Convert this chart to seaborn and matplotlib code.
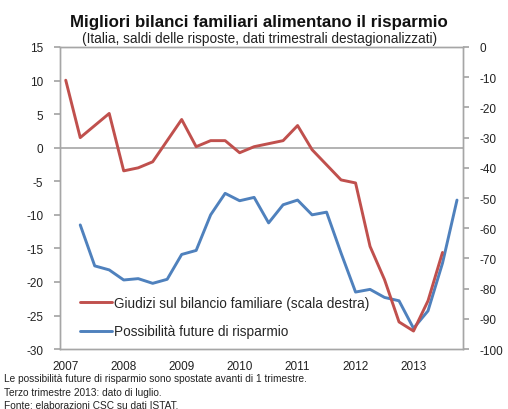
import matplotlib
matplotlib.use("Agg")
import matplotlib.pyplot as plt
import seaborn as sns
import pandas as pd
import numpy as np

sns.set_theme(style="white")
plt.rcParams['font.family'] = ['Liberation Sans', 'DejaVu Sans']
plt.rcParams['axes.unicode_minus'] = False

# Quarters 2007Q1 .. 2013Q4
quarters = [f"{y}Q{q}" for y in range(2007, 2014) for q in range(1, 5)]
year_labels = ["2007", "2008", "2009", "2010", "2011", "2012", "2013"]

# Giudizi sul bilancio familiare (right scale), 2007Q1 .. 2013Q3
giudizi = [-11, -30, -26, -22, -41, -40, -38, -31, -24, -33, -31, -31, -35, -33,
           -32, -31, -26, -34, -39, -44, -45, -66, -77, -91, -94, -84, -68]
# Possibilita future di risparmio (left scale), 2007Q2 .. 2013Q4 (shifted forward 1 quarter)
possibilita = [-11.5, -17.6, -18.2, -19.7, -19.5, -20.2, -19.6, -15.9, -15.3, -10.0,
               -6.8, -7.9, -7.4, -11.2, -8.5, -7.8, -10.0, -9.6, -15.7, -21.5, -21.1,
               -22.3, -22.8, -26.9, -24.3, -17.2, -7.8]

red = "#c0504d"
blue = "#4f81bd"

df_g = pd.DataFrame({"t": np.arange(len(giudizi)), "v": giudizi})
df_p = pd.DataFrame({"t": np.arange(1, 1 + len(possibilita)), "v": possibilita})

fig = plt.figure(figsize=(5.08, 4.10), dpi=100)
ax = fig.add_axes([0.118, 0.146, 0.793, 0.737])
ax2 = ax.twinx()

ax.axhline(0, color="#a6a6a6", lw=1.2, zorder=1)
sns.lineplot(data=df_p, x="t", y="v", ax=ax, color=blue, lw=2.1, zorder=3)
sns.lineplot(data=df_g, x="t", y="v", ax=ax2, color=red, lw=2.1, zorder=3)

ax.set_xlim(-0.4, 27.4)
ax.set_ylim(-30, 15)
ax2.set_ylim(-100, 0)
ax.set_yticks(np.arange(-30, 16, 5))
ax2.set_yticks(np.arange(-100, 1, 10))
ax.set_xticks(np.arange(0, 28, 4))
ax.set_xticklabels(year_labels)
ax.set_xlabel("")
ax.set_ylabel("")
ax2.set_ylabel("")

for a in (ax, ax2):
    for s in a.spines.values():
        s.set_color("#a6a6a6")
        s.set_linewidth(1.0)
ax.tick_params(axis="y", left=True, length=4, color="#a6a6a6", labelsize=8.5, pad=8, labelcolor="#222222")
ax2.tick_params(axis="y", right=True, length=4, color="#a6a6a6", labelsize=8.5, pad=8, labelcolor="#222222")
ax.tick_params(axis="x", bottom=False, labelsize=8.5, pad=1.5, labelcolor="#222222")

ax2.set_zorder(ax.get_zorder() + 1)
ax2.patch.set_visible(False)

from matplotlib.lines import Line2D
handles = [Line2D([0], [0], color=red, lw=2.1), Line2D([0], [0], color=blue, lw=2.1)]
leg = ax.legend(handles, ["Giudizi sul bilancio familiare (scala destra)", "Possibilità future di risparmio"],
                loc="lower left", bbox_to_anchor=(0.02, -0.005), frameon=False, fontsize=9.8,
                handlelength=2.3, handletextpad=0.15, labelspacing=1.05)
leg.set_zorder(10)

fig.text(0.51, 0.945, "Migliori bilanci familiari alimentano il risparmio", ha="center", va="center",
         fontsize=12.2, fontweight="bold", color="#111111")
fig.text(0.51, 0.905, "(Italia, saldi delle risposte, dati trimestrali destagionalizzati)", ha="center",
         va="center", fontsize=9.8, color="#222222")

notes = ["Le possibilità future di risparmio sono spostate avanti di 1 trimestre.",
         "Terzo trimestre 2013: dato di luglio.",
         "Fonte: elaborazioni CSC su dati ISTAT."]
for i, n in enumerate(notes):
    fig.text(0.008, 0.075 - i * 0.033, n, ha="left", va="center", fontsize=7.3, color="#222222")

fig.savefig("out.png", dpi=100)
